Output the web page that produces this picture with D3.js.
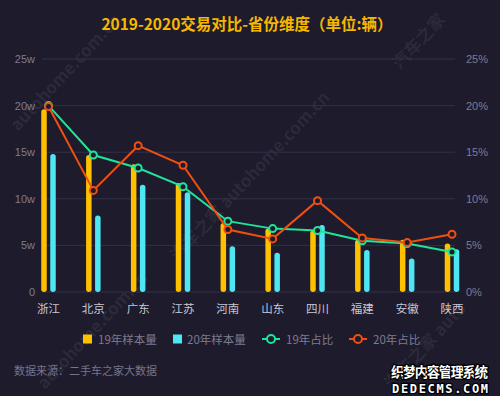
<!doctype html>
<html>
<head>
<meta charset="utf-8">
<script src="https://cdnjs.cloudflare.com/ajax/libs/d3/7.8.5/d3.min.js"></script>
<style>
body { margin: 0; background: #1e1b2d; }
svg { display: block; font-family: "Noto Sans CJK SC", "Noto Sans", sans-serif; }
.axis text { font-size: 11px; fill: #7f7c8e; }
.cat { font-size: 11.5px; fill: #c9c8d2; text-anchor: middle; }
.leg { font-size: 11.5px; fill: #7f7c8e; }
.wm { font-size: 17px; font-weight: bold; fill: #ffffff; fill-opacity: 0.07; }
</style>
</head>
<body>
<svg width="500" height="396"></svg>
<script>
var provinces = ["浙江", "北京", "广东", "江苏", "河南", "山东", "四川", "福建", "安徽", "陕西"]
// sample volume, unit: w (10k)
var vol19 = [19.6, 14.7, 13.7, 11.7, 7.4, 6.8, 6.6, 5.6, 5.6, 5.2]
var vol20 = [14.8, 8.2, 11.5, 10.7, 4.9, 4.2, 7.2, 4.5, 3.6, 4.6]
// share, %
var share19 = [20.0, 14.7, 13.3, 11.3, 7.6, 6.8, 6.6, 5.5, 5.2, 4.3]
var share20 = [19.9, 10.9, 15.7, 13.6, 6.7, 5.7, 9.8, 5.8, 5.3, 6.2]
var leftTicks = [0, 5, 10, 15, 20, 25]
var rightTicks = [0, 5, 10, 15, 20, 25]

var C_Y = "#ffc000", C_C = "#4fe6f3", C_G = "#1ee59a", C_O = "#f0500f", BG = "#1e1b2d"

var svg = d3.select("svg")

svg.append("rect").attr("width", 500).attr("height", 396).attr("fill", BG)

// watermarks (kept inside the canvas)
var wms = [
  {x: 18, y: 132, t: "autohome.com.cn"},
  {x: 178, y: 262, t: "汽车之家 autohome.com.cn"},
  {x: 45, y: 390, t: "autohome.com.cn"},
  {x: 400, y: 70, t: "汽车之家"},
  {x: 392, y: 390, t: "汽车之家 auto"}
]
svg.selectAll("text.wm").data(wms).enter().append("text")
  .attr("class", "wm")
  .attr("transform", d => "translate(" + d.x + "," + d.y + ") rotate(-47)")
  .text(d => d.t)

var x = d3.scalePoint().domain(provinces).range([48.5, 452])
var yL = d3.scaleLinear().domain([0, 25]).range([292, 59])
var yR = d3.scaleLinear().domain([0, 25]).range([292, 59])

// title
svg.append("text")
  .attr("x", 247).attr("y", 30)
  .attr("text-anchor", "middle")
  .attr("font-size", 15.5).attr("font-weight", "bold")
  .attr("fill", "#f5b700")
  .text("2019-2020交易对比-省份维度（单位:辆）")

// grid
svg.append("g").selectAll("line").data(leftTicks).enter().append("line")
  .attr("x1", 42).attr("x2", 455)
  .attr("y1", d => yL(d)).attr("y2", d => yL(d))
  .attr("stroke", "#34304a").attr("stroke-width", 1)

var gl = svg.append("g").attr("class", "axis").attr("transform", "translate(42,0)")
  .call(d3.axisLeft(yL).tickValues(leftTicks).tickSize(0).tickPadding(7)
    .tickFormat(d => d === 0 ? "0" : d + "w"))
gl.select(".domain").remove()

var gr = svg.append("g").attr("class", "axis").attr("transform", "translate(459,0)")
  .call(d3.axisRight(yR).tickValues(rightTicks).tickSize(0).tickPadding(7)
    .tickFormat(d => d + "%"))
gr.select(".domain").remove()

// category labels
svg.selectAll("text.cat").data(provinces).enter().append("text")
  .attr("class", "cat")
  .attr("x", d => x(d)).attr("y", 313)
  .text(d => d)

// bars
var bw = 5.5
function bars(vals, color, off) {
  svg.append("g").selectAll("rect").data(vals).enter().append("rect")
    .attr("x", (d, i) => x(provinces[i]) + off - bw / 2)
    .attr("y", d => yL(d))
    .attr("width", bw)
    .attr("height", d => yL(0) - yL(d))
    .attr("rx", bw / 2)
    .attr("fill", color)
}
bars(vol19, C_Y, -4.5)
bars(vol20, C_C, 4.5)

// lines
function line(vals, color) {
  var g = svg.append("g")
  g.append("path")
    .datum(vals)
    .attr("fill", "none")
    .attr("stroke", color).attr("stroke-width", 2)
    .attr("d", d3.line().x((d, i) => x(provinces[i])).y(d => yR(d)))
  g.selectAll("circle").data(vals).enter().append("circle")
    .attr("cx", (d, i) => x(provinces[i])).attr("cy", d => yR(d))
    .attr("r", 3.5)
    .attr("fill", BG).attr("stroke", color).attr("stroke-width", 2)
}
line(share19, C_G)
line(share20, C_O)

// legend
var leg = svg.append("g")
leg.append("rect").attr("x", 83).attr("y", 334.5).attr("width", 9).attr("height", 9).attr("fill", C_Y)
leg.append("text").attr("class", "leg").attr("x", 98).attr("y", 343.5).text("19年样本量")
leg.append("rect").attr("x", 173).attr("y", 334.5).attr("width", 9).attr("height", 9).attr("fill", C_C)
leg.append("text").attr("class", "leg").attr("x", 187).attr("y", 343.5).text("20年样本量")
var lines = [{x: 262, c: C_G, t: "19年占比"}, {x: 349, c: C_O, t: "20年占比"}]
lines.forEach(function(d) {
  leg.append("line").attr("x1", d.x).attr("x2", d.x + 18).attr("y1", 339).attr("y2", 339)
    .attr("stroke", d.c).attr("stroke-width", 2)
  leg.append("circle").attr("cx", d.x + 9).attr("cy", 339).attr("r", 4)
    .attr("fill", BG).attr("stroke", d.c).attr("stroke-width", 2)
  leg.append("text").attr("class", "leg").attr("x", d.x + 24).attr("y", 343.5).text(d.t)
})

// source
svg.append("text").attr("x", 14).attr("y", 375)
  .attr("font-size", 11).attr("fill", "#77748a")
  .text("数据来源：二手车之家大数据")

// site watermark
svg.append("text").attr("x", 391).attr("y", 377)
  .attr("font-size", 13.5).attr("font-weight", "bold")
  .attr("fill", "#fff").attr("stroke", "#000").attr("stroke-width", 2.5).attr("paint-order", "stroke")
  .attr("textLength", 97)
  .text("织梦内容管理系统")
svg.append("text").attr("x", 392).attr("y", 393)
  .attr("font-size", 12).attr("font-weight", "bold").attr("font-family", "DejaVu Sans Mono")
  .attr("fill", "#fff").attr("stroke", "#000").attr("stroke-width", 2.5).attr("paint-order", "stroke")
  .attr("textLength", 96)
  .text("DEDECMS.COM")
</script>
</body>
</html>
